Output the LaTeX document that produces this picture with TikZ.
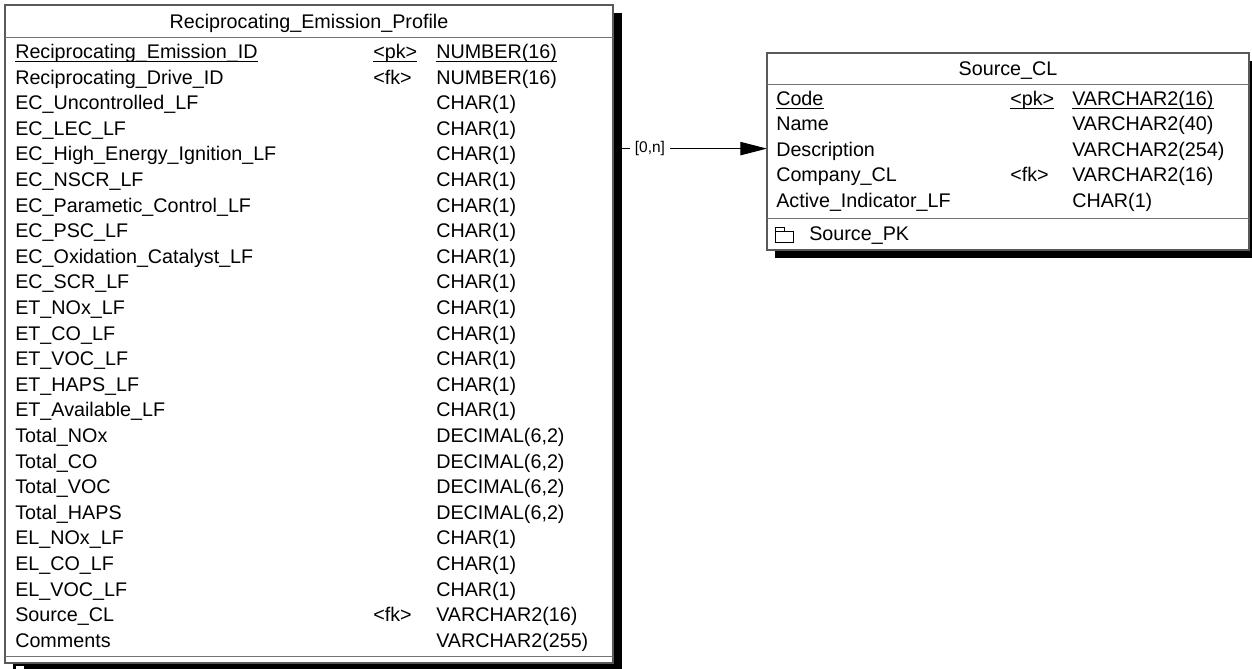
\documentclass[tikz,border=0pt]{standalone}
\usepackage{fontspec}
\setmainfont{Liberation Sans}
\usetikzlibrary{arrows.meta}
\begin{document}
\begin{tikzpicture}[x=0.75pt,y=-0.75pt,
  every node/.style={inner sep=0pt, font=\fontsize{14.8}{17}\selectfont},
  frame/.style={draw=black!65, line width=0.9pt, fill=white},
  sepline/.style={draw=black!55, line width=0.75pt},
  shadowfill/.style={fill=black},
  cell/.style={anchor=base west},
  uline/.style={draw=black, line width=0.9pt},
  conn/.style={draw=black, line width=0.75pt, -{Triangle[length=20pt,width=10pt]}},
  card/.style={fill=white, inner sep=4pt, font=\fontsize{11.6}{13}\selectfont},
  keyicon/.style={draw=black, line width=0.75pt, fill=white}]
\useasboundingbox (0,0) rectangle (1252,668);
\clip (0,0) rectangle (1252,668);

% connector
\coordinate (ca) at (613,148.6);
\coordinate (cb) at (767,148.6);
\draw[conn] (ca) -- node[card, pos=0.24] (cl) {[0,n]} (cb);

% ---------- left table ----------
\fill[shadowfill] (13,13) rectangle (622,675);
\draw[frame] (5,5) rectangle (613,663);
\draw[sepline] (5,37) -- (613,37);
\draw[sepline] (5,656) -- (613,656);
\node[anchor=base] (lt) at (309,28) {Reciprocating\_Emission\_Profile};
\foreach \n/\k/\t [count=\i from 0] in {
  {Reciprocating\_Emission\_ID}/{<pk>}/{NUMBER(16)},
  {Reciprocating\_Drive\_ID}/{<fk>}/{NUMBER(16)},
  {EC\_Uncontrolled\_LF}/{}/{CHAR(1)},
  {EC\_LEC\_LF}/{}/{CHAR(1)},
  {EC\_High\_Energy\_Ignition\_LF}/{}/{CHAR(1)},
  {EC\_NSCR\_LF}/{}/{CHAR(1)},
  {EC\_Parametic\_Control\_LF}/{}/{CHAR(1)},
  {EC\_PSC\_LF}/{}/{CHAR(1)},
  {EC\_Oxidation\_Catalyst\_LF}/{}/{CHAR(1)},
  {EC\_SCR\_LF}/{}/{CHAR(1)},
  {ET\_NOx\_LF}/{}/{CHAR(1)},
  {ET\_CO\_LF}/{}/{CHAR(1)},
  {ET\_VOC\_LF}/{}/{CHAR(1)},
  {ET\_HAPS\_LF}/{}/{CHAR(1)},
  {ET\_Available\_LF}/{}/{CHAR(1)},
  {Total\_NOx}/{}/{DECIMAL(6,2)},
  {Total\_CO}/{}/{DECIMAL(6,2)},
  {Total\_VOC}/{}/{DECIMAL(6,2)},
  {Total\_HAPS}/{}/{DECIMAL(6,2)},
  {EL\_NOx\_LF}/{}/{CHAR(1)},
  {EL\_CO\_LF}/{}/{CHAR(1)},
  {EL\_VOC\_LF}/{}/{CHAR(1)},
  {Source\_CL}/{<fk>}/{VARCHAR2(16)},
  {Comments}/{}/{VARCHAR2(255)}}{
  \node[cell] (ln\i) at (15,{58.5+25.6*\i}) {\n};
  \node[cell] (lk\i) at (373,{58.5+25.6*\i}) {\k};
  \node[cell] (lty\i) at (436,{58.5+25.6*\i}) {\t};
}
\foreach \m in {ln0,lk0,lty0}{
  \draw[uline] ([yshift=-2.4pt]\m.base west) -- ([yshift=-2.4pt]\m.base east);
}
\draw[keyicon] (15,665) -- (24,665) -- (24,669) -- (33,669) -- (33,680) -- (15,680) -- cycle;
\draw[keyicon] (15,669) -- (24,669);

% ---------- right table ----------
\fill[shadowfill] (775,61) rectangle (1262,258);
\draw[frame] (767,53) rectangle (1249,250);
\draw[sepline] (767,84) -- (1249,84);
\draw[sepline] (767,218) -- (1249,218);
\node[anchor=base] (rt) at (1008,75) {Source\_CL};
\foreach \n/\k/\t [count=\i from 0] in {
  {Code}/{<pk>}/{VARCHAR2(16)},
  {Name}/{}/{VARCHAR2(40)},
  {Description}/{}/{VARCHAR2(254)},
  {Company\_CL}/{<fk>}/{VARCHAR2(16)},
  {Active\_Indicator\_LF}/{}/{CHAR(1)}}{
  \node[cell] (rn\i) at (776,{105+25.6*\i}) {\n};
  \node[cell] (rk\i) at (1010,{105+25.6*\i}) {\k};
  \node[cell] (rty\i) at (1072,{105+25.6*\i}) {\t};
}
\foreach \m in {rn0,rk0,rty0}{
  \draw[uline] ([yshift=-2.4pt]\m.base west) -- ([yshift=-2.4pt]\m.base east);
}
\draw[keyicon] (775,227) -- (784,227) -- (784,231) -- (793,231) -- (793,242) -- (775,242) -- cycle;
\draw[keyicon] (775,231) -- (784,231);
\node[cell] (rpk) at (809,240) {Source\_PK};
\end{tikzpicture}
\end{document}
